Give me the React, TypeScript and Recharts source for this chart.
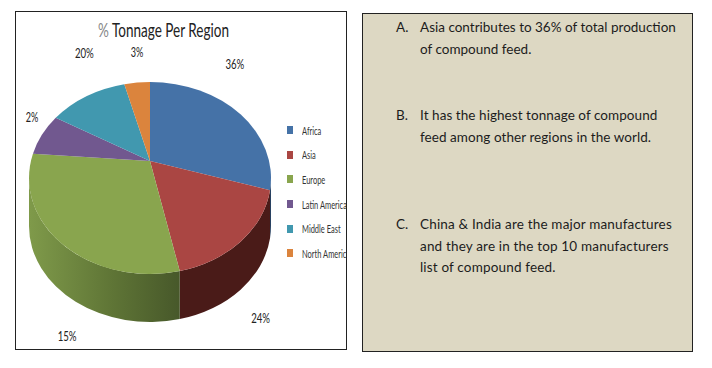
import { Legend, Pie, PieChart } from 'recharts';

const regions = ['Africa', 'Asia', 'Europe', 'Latin America', 'Middle East', 'North America'];
// share of the drawn pie
const sliceShares = [27, 19, 33, 6.7, 10.8, 3.4];
// printed labels, they do not follow the slice sizes in the original
const printedLabels = ['36%', '24%', '15%', '2%', '20%', '3%'];
const topColors = ['#4572A7', '#AA4643', '#89A54E', '#71588F', '#4198AF', '#DB843D'];
const wallColors = ['#254061', '#4A1B18', 'url(#europe-wall)', '#71588F', '#4198AF', '#DB843D'];
const labelNudges = [
  [-6, -51],
  [20, 76],
  [3, 90],
  [-10, -18],
  [-2, -44],
  [0, -31],
];

const notes = [
  { mark: 'A.', top: 3, spacing: 0, lines: ['Asia contributes to 36% of total production', 'of compound feed.'] },
  { mark: 'B.', top: 91, spacing: 0.06, lines: ['It has the highest tonnage of compound', 'feed among other regions in the world.'] },
  {
    mark: 'C.',
    top: 200,
    spacing: 0.17,
    lines: ['China & India are the major manufactures', 'and they are in the top 10 manufacturers', 'list of compound feed.'],
  },
];

const table = regions.map((name, i) => ({
  name,
  share: sliceShares[i],
  fill: topColors[i],
  wall: wallColors[i],
}));

const RY = 96 / 121; // squash of the tilted disc
const VERTEX_UP = 17;
const DEPTH = 48;
const RAD = Math.PI / 180;

function rim(cx: number, cy: number, r: number, angle: number) {
  return { x: cx + r * Math.cos(angle * RAD), y: cy - r * RY * Math.sin(angle * RAD) };
}

function TopSlice(props: any) {
  const { cx, cy, outerRadius: r, startAngle, endAngle, fill } = props;
  const a = rim(cx, cy, r, startAngle);
  const b = rim(cx, cy, r, endAngle);
  const large = Math.abs(startAngle - endAngle) > 180 ? 1 : 0;
  const d = `M${cx},${cy - VERTEX_UP} L${a.x},${a.y} A${r},${r * RY} 0 ${large} 1 ${b.x},${b.y} Z`;
  return <path d={d} fill={fill} />;
}

function WallSlice(props: any) {
  const { cx, cy, outerRadius: r, startAngle, endAngle } = props;
  const wall = props.wall ?? props.payload?.wall;
  const from = Math.min(startAngle, 0);
  const to = Math.max(endAngle, -180);
  if (from <= to) return <g />;
  const a = rim(cx, cy, r, from);
  const b = rim(cx, cy, r, to);
  const d = `M${a.x},${a.y} A${r},${r * RY} 0 0 1 ${b.x},${b.y} L${b.x},${b.y + DEPTH} A${r},${r * RY} 0 0 0 ${a.x},${a.y + DEPTH} Z`;
  return <path d={d} fill={wall} />;
}

function SliceLabel(props: any) {
  const { cx, cy, outerRadius: r, midAngle, index } = props;
  const p = rim(cx, cy, r, midAngle);
  const [dx, dy] = labelNudges[index];
  const label = printedLabels[index];
  return (
    <text
      x={p.x + dx}
      y={p.y + dy}
      textAnchor="middle"
      dominantBaseline="central"
      fontFamily="Lato"
      fontSize={14}
      fill="#222"
      textLength={label.length * 6.3}
      lengthAdjust="spacingAndGlyphs"
    >
      {label}
    </text>
  );
}

function RegionLegend() {
  return (
    <div style={{ fontFamily: 'Lato', fontSize: 11, color: '#333' }}>
      {regions.map((name, i) => (
        <div key={name} style={{ height: 24.6, display: 'flex', alignItems: 'center', whiteSpace: 'nowrap' }}>
          <span style={{ width: 6, height: 8, marginRight: 9, flex: 'none', background: topColors[i] }} />
          <span style={{ display: 'inline-block', transform: 'scaleX(0.68)', transformOrigin: 'left center' }}>{name}</span>
        </div>
      ))}
    </div>
  );
}

export default function App() {
  return (
    <div style={{ position: 'absolute', left: 0, top: 0, width: 712, height: 368, background: '#fff' }}>
      <div
        style={{
          position: 'absolute',
          left: 15,
          top: 11,
          width: 330,
          height: 337,
          border: '1px solid #222',
          overflow: 'hidden',
        }}
      >
        <PieChart width={330} height={337} margin={{ top: 0, right: 0, bottom: 0, left: 0 }}>
          <defs>
            <linearGradient id="europe-wall" x1="0" y1="0" x2="1" y2="0">
              <stop offset="0%" stopColor="#7F9A4A" />
              <stop offset="55%" stopColor="#5F7536" />
              <stop offset="100%" stopColor="#47582A" />
            </linearGradient>
          </defs>
          <text
            x={147.5}
            y={25}
            textAnchor="middle"
            fontFamily="Lato"
            fontSize={20}
            fill="#222"
            textLength={131}
            lengthAdjust="spacingAndGlyphs"
          >
            <tspan fill="#888">%</tspan> Tonnage Per Region
          </text>
          <Pie
            data={table}
            dataKey="share"
            nameKey="name"
            cx={134}
            cy={166}
            outerRadius={121}
            startAngle={90}
            endAngle={-270}
            stroke="none"
            legendType="none"
            shape={WallSlice}
            isAnimationActive={false}
          />
          <Pie
            data={table}
            dataKey="share"
            nameKey="name"
            cx={134}
            cy={166}
            outerRadius={121}
            startAngle={90}
            endAngle={-270}
            stroke="none"
            shape={TopSlice}
            label={SliceLabel}
            labelLine={false}
            isAnimationActive={false}
          />
          <Legend
            layout="vertical"
            content={RegionLegend}
            wrapperStyle={{ left: 271, top: 106, width: 90, bottom: 'auto', right: 'auto' }}
          />
        </PieChart>
      </div>
      <div
        style={{
          position: 'absolute',
          left: 362,
          top: 13,
          width: 329,
          height: 337,
          border: '1px solid #222',
          background: '#DDD8C3',
          fontFamily: 'Lato',
          fontSize: 13.5,
          lineHeight: '21.5px',
          color: '#1c1c1c',
        }}
      >
        {notes.map((n) => (
          <div key={n.mark} style={{ position: 'absolute', left: 33, top: n.top }}>
            <span style={{ position: 'absolute', left: 0 }}>{n.mark}</span>
            <div style={{ marginLeft: 24, whiteSpace: 'nowrap', letterSpacing: n.spacing }}>
              {n.lines.map((l) => (
                <div key={l}>{l}</div>
              ))}
            </div>
          </div>
        ))}
      </div>
    </div>
  );
}
